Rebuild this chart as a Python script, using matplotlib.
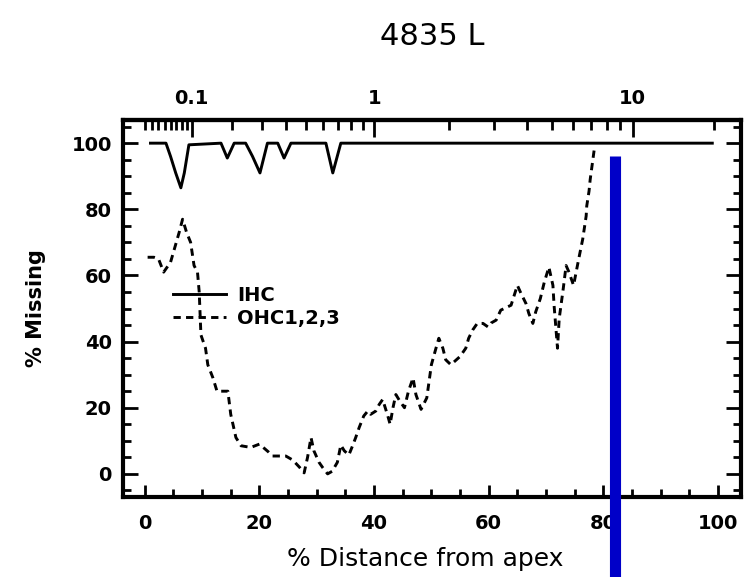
import numpy as np
import matplotlib
matplotlib.use('Agg')
import matplotlib.pyplot as plt
from matplotlib.ticker import FixedLocator, MultipleLocator, FuncFormatter

plt.rcParams['font.family'] = ['DejaVu Sans']

# IHC loss (% missing) along the cochlea
ihc_dist = [1.0, 3.7, 4.5, 5.4, 6.3, 6.9, 7.7, 13.3, 14.4, 15.6, 17.6, 18.8, 20.1,
            21.4, 23.2, 24.3, 25.5, 31.6, 32.8, 34.2, 99.0]
ihc_missing = [100, 100, 96, 91, 86.5, 91, 99.5, 100, 95.5, 100, 100, 96, 91,
               100, 100, 95.5, 100, 100, 91, 100, 100]

# OHC (rows 1-3) loss along the cochlea
ohc_dist = [0.5, 1.6, 2.4, 3.3, 4.5, 5.5, 6.0, 6.6, 7.3, 8.0, 8.6, 9.2, 9.5, 9.8,
            10.6, 11.0, 11.9, 12.6, 13.3, 14.5, 15.0, 15.9, 16.8, 18.5, 20.0,
            21.6, 22.3, 24.6, 25.8, 27.0, 27.8, 28.4, 29.0, 29.5, 30.4, 31.0,
            31.9, 32.7, 33.6, 34.2, 34.8, 35.6, 36.3, 36.8, 37.4, 38.2, 38.9,
            39.4, 40.3, 40.9, 41.5, 42.4, 42.8, 43.3, 43.8, 44.5, 45.3, 46.0,
            46.8, 47.3, 48.2, 49.2, 49.6, 50.0, 50.8, 51.3, 52.0, 52.5, 53.4,
            55.0, 56.0, 56.5, 57.2, 58.0, 59.0, 59.9, 60.4, 61.3, 62.1, 63.9,
            65.0, 65.6, 66.5, 67.0, 67.7, 68.2, 69.0, 69.7, 70.5, 71.2, 71.4,
            72.0, 72.3, 73.0, 73.5, 74.0, 74.8, 75.7, 76.4, 77.0, 77.1, 77.5,
            77.7, 78.4]
ohc_missing = [65.5, 65.5, 65, 61, 64, 70, 73, 77, 73, 70, 63, 61, 55, 42,
               38, 33, 29, 25, 25, 25, 18, 11, 8.5, 8, 9,
               6.6, 5.4, 5.4, 4.2, 2, 0.3, 5, 11, 7, 3.5, 2,
               0, 0.8, 3.5, 8.7, 7, 5.7, 8.7, 11, 14, 17.5, 19,
               18, 19, 21, 22.5, 17.5, 15, 20, 24, 22, 20, 25,
               29, 24, 19.5, 23, 28, 33, 38, 41, 38, 34.5, 33,
               35.5, 38, 41, 43.5, 45.5, 45.5, 44.4, 45.6, 46.5, 49.5, 51,
               57, 54.7, 51.5, 48.5, 45.5, 49, 53, 58, 62.5, 57, 51,
               38, 47, 56, 63, 61, 57, 65, 71, 78, 81, 85.5,
               89, 98]

# marked position
marker_dist = 82
marker_top = 96

x_ticks = [0, 20, 40, 60, 80, 100]
y_ticks = [0, 20, 40, 60, 80, 100]
freq_major = [0.1, 1, 10]
freq_minor = [0.02, 0.03, 0.04, 0.05, 0.06, 0.07, 0.08, 0.09,
              0.2, 0.3, 0.4, 0.5, 0.6, 0.7, 0.8, 0.9,
              2, 3, 4, 5, 6, 7, 8, 9, 20]


# Greenwood map (human): % distance from apex <-> kHz
def dist_to_khz(d):
    return 0.1654 * (10 ** (2.1 * np.asarray(d, dtype=float) / 100.0) - 0.88)


def khz_to_dist(f):
    f = np.asarray(f, dtype=float)
    return 100.0 / 2.1 * np.log10(np.maximum(f / 0.1654 + 0.88, 1e-9))


fig = plt.figure(figsize=(7.53, 5.77), dpi=100)
ax = fig.add_axes([0.1633, 0.1386, 0.8207, 0.6534])

ax.plot(ihc_dist, ihc_missing, color='black', lw=2.1, label='IHC')
ax.plot(ohc_dist, ohc_missing, color='black', lw=2.1,
        linestyle=(0, (2.5, 1.8)), label='OHC1,2,3')

ax.vlines(marker_dist, -40, marker_top, color='#0000C8', lw=8,
          clip_on=False, zorder=5)

ax.set_xlim(-3.8, 104.0)
ax.set_ylim(-7, 107)

ax.xaxis.set_major_locator(FixedLocator(x_ticks))
ax.xaxis.set_minor_locator(MultipleLocator(5))
ax.yaxis.set_major_locator(FixedLocator(y_ticks))
ax.yaxis.set_minor_locator(MultipleLocator(5))

for s in ax.spines.values():
    s.set_linewidth(3)

ax.tick_params(axis='both', which='both', direction='in', width=2,
               top=False, right=True, labelsize=14)
ax.tick_params(axis='y', which='major', length=11, pad=8)
ax.tick_params(axis='y', which='minor', length=6)
ax.tick_params(axis='x', which='major', length=8.5, pad=12)
ax.tick_params(axis='x', which='minor', length=6)
for lab in ax.get_xticklabels() + ax.get_yticklabels():
    lab.set_fontweight('bold')

# frequency scale along the top
sec = ax.secondary_xaxis('top', functions=(dist_to_khz, khz_to_dist))
sec.xaxis.set_major_locator(FixedLocator(freq_major))
sec.xaxis.set_minor_locator(FixedLocator(freq_minor))
sec.xaxis.set_major_formatter(FuncFormatter(lambda v, p: '%g' % v))
sec.tick_params(which='both', direction='in', width=2, labelsize=14)
sec.tick_params(which='major', length=12, pad=9)
sec.tick_params(which='minor', length=7)
sec.spines['top'].set_linewidth(3)
for lab in sec.get_xticklabels():
    lab.set_fontweight('bold')

ax.set_ylabel('% Missing', fontsize=15, fontweight='bold', labelpad=18)
fig.text(0.565, 0.019, '% Distance from apex', fontsize=18, ha='center',
         va='baseline')
fig.text(0.574, 0.936, '4835 L', fontsize=22, ha='center', va='center')

ax.legend(loc='center left', bbox_to_anchor=(0.081, 0.505), frameon=False,
          borderpad=0, borderaxespad=0, handlelength=2.7, handletextpad=0.6,
          labelspacing=0.2, prop={'weight': 'bold', 'size': 14})

fig.savefig('out.png', dpi=100)
